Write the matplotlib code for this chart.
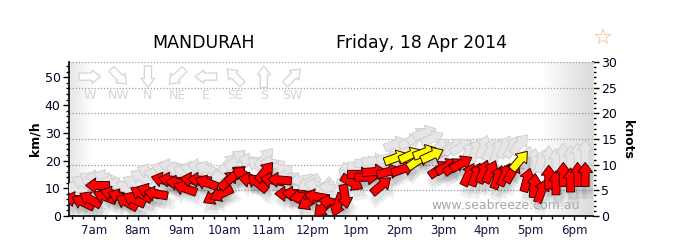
import matplotlib
matplotlib.use("Agg")
import matplotlib.pyplot as plt
import matplotlib.transforms as mtransforms
from matplotlib.patches import Polygon
from matplotlib.ticker import MultipleLocator
import numpy as np

# observation times, speed (km/h), direction wind comes from (deg), gust (km/h)
times = ["6:35", "6:45", "6:55", "7:05", "7:15", "7:25", "7:35", "7:45", "7:55",
         "8:05", "8:15", "8:25", "8:35", "8:45", "8:55", "9:05", "9:15", "9:25",
         "9:35", "9:45", "9:55", "10:05", "10:15", "10:25", "10:35", "10:45",
         "10:55", "11:05", "11:15", "11:25", "11:35", "11:45", "11:55", "12:05",
         "12:15", "12:25", "12:35", "12:45", "12:55", "13:05", "13:15", "13:25",
         "13:35", "13:45", "13:55", "14:05", "14:15", "14:25", "14:35", "14:45",
         "14:55", "15:05", "15:15", "15:25", "15:35", "15:45", "15:55", "16:05",
         "16:15", "16:25", "16:35", "16:45", "16:55", "17:05", "17:15", "17:25",
         "17:35", "17:45", "17:55", "18:05", "18:15"]
speed = [6, 5, 6, 11, 7, 8, 7, 5, 6,
         8, 9, 8, 13, 13, 12, 10, 13, 13,
         12, 7, 8, 13, 15, 15, 13, 12,
         16, 13, 13, 8, 8, 7, 5, 7,
         3, 5, 4, 7, 12, 15, 14, 16,
         11, 16, 21, 17, 22, 20, 23, 22,
         17, 18, 18, 19, 15, 15, 16, 16,
         14, 15, 16, 20, 13, 11, 9, 14,
         12, 15, 13, 15, 15]
direction = [100, 115, 120, 90, 110, 105, 110, 120, 115,
             120, 110, 100, 105, 100, 95, 110, 100, 95,
             110, 60, 65, 225, 230, 120, 100, 130,
             220, 100, 95, 90, 95, 80, 60, 100,
             45, 100, 20, 350, 300, 270, 270, 265,
             230, 255, 250, 250, 245, 235, 250, 245,
             235, 240, 235, 240, 205, 200, 200, 205,
             200, 205, 210, 220, 195, 185, 200, 180,
             180, 180, 180, 178, 180]
gust = [10, 12, 13, 14, 14, 12, 11, 10, 12,
        14, 16, 15, 17, 18, 17, 16, 17, 18,
        17, 14, 15, 19, 20, 21, 20, 18,
        21, 19, 17, 14, 13, 13, 12, 11,
        10, 10, 9, 13, 16, 18, 19, 20,
        18, 21, 26, 23, 27, 29, 30, 28,
        25, 24, 25, 25, 23, 24, 25, 24,
        24, 25, 25, 26, 21, 20, 20, 21,
        20, 22, 21, 22, 23]

compass_names = ["W", "NW", "N", "NE", "E", "SE", "S", "SW"]
compass_dirs = [270, 315, 0, 45, 90, 135, 180, 225]

hour_ticks = [7, 8, 9, 10, 11, 12, 13, 14, 15, 16, 17, 18]
hour_labels = ["7am", "8am", "9am", "10am", "11am", "12pm",
               "1pm", "2pm", "3pm", "4pm", "5pm", "6pm"]

KMH_PER_KT = 1.852

t = np.array([int(s.split(":")[0]) + int(s.split(":")[1]) / 60.0 for s in times])

fig = plt.figure(figsize=(6.91, 2.52), dpi=100)
ax = fig.add_axes([69 / 691, 36 / 252, 524 / 691, 154 / 252])
ax.set_xlim(6.43, 18.43)
ax.set_ylim(0, 30 * KMH_PER_KT)

# twilight shading at both ends
f = np.linspace(0, 1, 400)
shade = np.clip(1 - f / 0.045, 0, 1) * 0.10 + np.clip((f - 0.90) / 0.09, 0, 1) * 0.13
img = np.ones((1, len(f), 3)) * (1 - shade)[None, :, None]
ax.imshow(img, extent=(0, 1, 0, 1), transform=ax.transAxes, aspect="auto", zorder=0)

for kt in [5, 10, 15, 20, 25, 30]:
    ax.axhline(kt * KMH_PER_KT, color="#9a9a9a", lw=0.9, ls=(0, (1, 1.5)), zorder=1)

# arrow outline in pixels, pointing to +x
arrow = np.array([(-12, -4), (2, -4), (2, -7.5), (12, 0), (2, 7.5), (2, 4), (-12, 4)])


def draw_arrow(x, y, frm, face, edge, z, trans, lw=0.7, alpha=1.0, scale=1.0, off=(0, 0)):
    ang = -90 - frm
    tr = (mtransforms.Affine2D().rotate_deg(ang).scale(scale).translate(*off)
          + mtransforms.ScaledTranslation(x, y, trans))
    p = Polygon(arrow, closed=True, facecolor=face, edgecolor=edge, lw=lw,
                alpha=alpha, transform=tr, zorder=z)
    ax.add_patch(p)


# compass key
for i, (name, d) in enumerate(zip(compass_names, compass_dirs)):
    fx = 0.040 + i * 0.0553
    draw_arrow(fx, 0.905, d, "white", "#d4d4d4", 2, ax.transAxes, lw=0.9, scale=0.9)
    ax.text(fx, 0.785, name, transform=ax.transAxes, ha="center", va="center",
            fontsize=9, color="#d6d6d6", zorder=2)

# gusts
for ti, g, d in zip(t, gust, direction):
    draw_arrow(ti, g, d, "#e6e6e6", "#cdcdcd", 3, ax.transData, lw=0.6)

# soft shadows
for ti, s, d in zip(t, speed, direction):
    for sc, off in [(1.35, (3, -8)), (1.15, (2, -6))]:
        draw_arrow(ti, s, d, "black", "none", 4, ax.transData, lw=0, alpha=0.06,
                   scale=sc, off=off)

# mean wind
for ti, s, d in zip(t, speed, direction):
    face = "#ffff00" if s >= 19.5 else "#ff0000"
    draw_arrow(ti, s, d, face, "#3a0000", 5, ax.transData, lw=0.7)

ax.text(0.975, 0.07, "www.seabreeze.com.au", transform=ax.transAxes, ha="right",
        va="center", fontsize=9, color="#a6a6b4", zorder=6)

# axes styling
for side in ["top", "right"]:
    ax.spines[side].set_visible(False)
ax.spines["left"].set_linewidth(1.2)
ax.spines["bottom"].set_linewidth(1.2)
ax.set_xticks(hour_ticks)
ax.set_xticklabels(hour_labels, fontsize=8.5, color="#1a1040")
ax.xaxis.set_minor_locator(MultipleLocator(0.25))
ax.yaxis.set_major_locator(MultipleLocator(10))
ax.yaxis.set_minor_locator(MultipleLocator(2))
ax.tick_params(axis="y", labelsize=9, labelcolor="#000020", length=4, width=1, pad=2)
ax.tick_params(axis="y", which="minor", length=2, width=1)
ax.tick_params(axis="x", length=3, width=1, pad=3)
ax.tick_params(axis="x", which="minor", length=2, width=1)
ax.set_ylabel("km/h", fontsize=9, fontweight="bold", labelpad=2)

ax2 = ax.twinx()
ax2.set_ylim(0, 30)
for side in ["top", "left", "bottom"]:
    ax2.spines[side].set_visible(False)
ax2.spines["right"].set_linewidth(1.2)
ax2.yaxis.set_major_locator(MultipleLocator(5))
ax2.yaxis.set_minor_locator(MultipleLocator(1))
ax2.tick_params(axis="y", labelsize=9, labelcolor="#000020", length=4, width=1, pad=2)
ax2.tick_params(axis="y", which="minor", length=2, width=1)
ax2.set_ylabel("knots", fontsize=9, fontweight="bold", rotation=-90, labelpad=12)
ax2.set_zorder(ax.get_zorder() - 1)
ax.patch.set_visible(False)

fig.text(204 / 691, 1 - 43 / 252, "MANDURAH", ha="center", va="center", fontsize=12.5)
fig.text(421 / 691, 1 - 43 / 252, "Friday, 18 Apr 2014", ha="center", va="center",
         fontsize=12.5)
fig.text(603 / 691, 1 - 39 / 252, "\u2606", ha="center", va="center", fontsize=16,
         color="#f5b27a")

fig.savefig("out.png", dpi=100)
